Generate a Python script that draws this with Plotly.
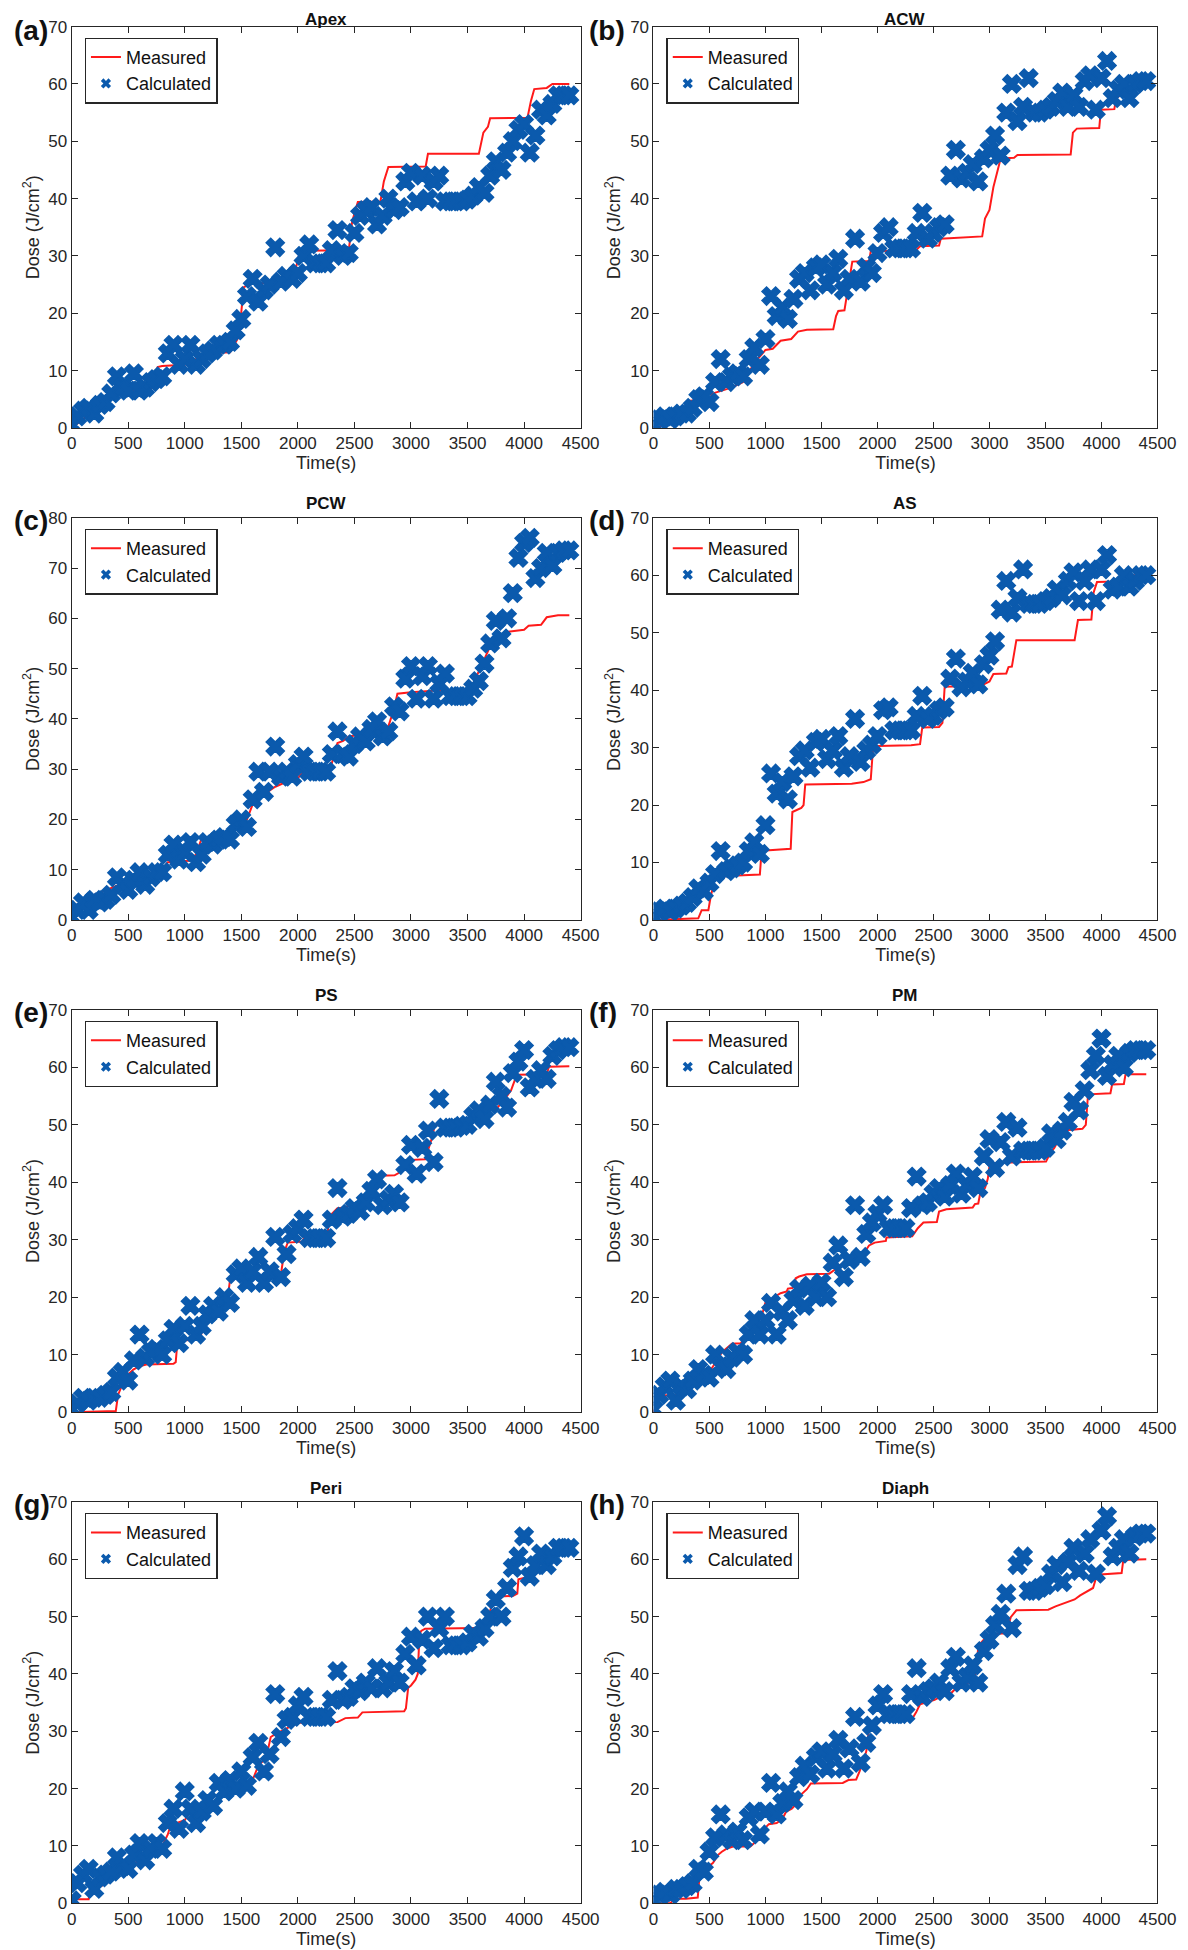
import plotly.graph_objects as go

# ---------------- data ----------------
PANEL_LABELS = ["(a)", "(b)", "(c)", "(d)", "(e)", "(f)", "(g)", "(h)"]
PANEL_TITLES = ["Apex", "ACW", "PCW", "AS", "PS", "PM", "Peri", "Diaph"]
Y_MAX = [70, 70, 80, 70, 70, 70, 70, 70]

# sample times of the calculated dose (s)
T_CALC = [0, 50, 100, 150, 200, 250, 300, 350, 400, 450,
          500, 550, 600, 650, 700, 750, 800, 850, 900, 950,
          1000, 1050, 1100, 1150, 1200, 1250, 1300, 1350, 1400, 1450,
          1500, 1550, 1600, 1650, 1700, 1750, 1800, 1850, 1900, 1950,
          2000, 2050, 2100, 2150, 2200, 2250, 2300, 2350, 2400, 2450,
          2500, 2550, 2600, 2650, 2700, 2750, 2800, 2850, 2900, 2950,
          3000, 3050, 3100, 3150, 3200, 3250, 3300, 3350, 3400, 3450,
          3500, 3550, 3600, 3650, 3700, 3750, 3800, 3850, 3900, 3950,
          4000, 4050, 4100, 4150, 4200, 4250, 4300, 4350, 4400]

calc_apex = [0.5, 2, 3, 3.5, 2.5, 4, 4.5, 6, 9, 7,
             6.5, 9.5, 6.5, 7, 8, 8.5, 9, 13, 14.5, 11,
             12, 14.5, 11, 12, 13, 13.5, 14.5, 14.5, 15, 17,
             19, 23, 26, 22, 24, 25, 31.5, 25.5, 26.5, 26,
             27, 30, 32, 28.7, 28.7, 28.7, 31, 34.5, 30, 30.5,
             34, 37, 38, 38.5, 35.5, 37, 40, 38, 38.5, 43,
             44.5, 39.5, 44, 40, 43, 44, 39.5, 39.5, 39.5, 39.5,
             39.8, 40.5, 42, 41, 44, 46.5, 45, 48, 50, 52,
             53, 48, 51, 55.5, 54.5, 56.5, 58, 58, 58]
calc_acw = [0.5, 1.5, 2, 1.5, 2, 2.5, 2.5, 3.5, 5, 5.5,
            4.5, 8, 12, 8, 9, 9.5, 9, 12, 14, 11,
            15.5, 23, 19.5, 21, 19, 22.5, 26, 27, 24, 28,
            28.5, 25, 27, 29.5, 24, 26, 33, 25.5, 28, 27,
            30.5, 34, 35, 31.3, 31.3, 31.3, 31.3, 34, 37.5, 33,
            34, 35, 35.5, 44, 48.5, 43.5, 44.5, 46, 43, 47,
            48.5, 51, 47.5, 55, 60, 53.5, 56, 61, 55, 55,
            55.5, 56, 57, 58.5, 56, 58, 56, 60.5, 61.5, 55.5,
            61, 64, 57.5, 59, 60, 57.5, 60, 60.5, 60.5]
calc_pcw = [0.5, 2, 3.5, 2, 4, 3.5, 4, 5, 8.5, 7,
            6, 8, 9.5, 7, 8.5, 9.5, 9.5, 13, 15, 12,
            13.5, 15.5, 11.5, 13, 15.5, 15, 16, 16.5, 16, 19,
            20, 18.5, 24, 29.5, 25.5, 29.5, 34.5, 28.5, 29.5, 28.5,
            31, 32.5, 29.5, 29.5, 29.5, 29.5, 33, 37.5, 33, 32.5,
            35, 36.5, 35.5, 38, 39.5, 36.5, 37.5, 42.5, 41.5, 48,
            50.5, 44, 48.5, 50.5, 44, 47, 49, 44.5, 44.5, 44.5,
            44.5, 46, 47.5, 51, 55, 59.5, 56, 60, 65, 72,
            75, 76, 68, 70, 73, 70.5, 73, 73.5, 73.5]
calc_as = [0.5, 1.5, 2, 1.5, 2, 2.5, 3, 4, 5.5, 5,
           6.5, 8, 12, 8.5, 9, 9.5, 10, 12, 13.5, 11.5,
           16.5, 25.5, 22, 24, 21, 25, 28.5, 29.5, 26.5, 31,
           31.5, 28, 29.5, 32, 26.5, 28.5, 35, 27.5, 29.5, 30.5,
           32, 36.5, 37, 33, 33, 33, 33, 35.5, 39, 35,
           35.5, 36.5, 37, 42, 45.5, 40.5, 41.5, 43, 41, 44.5,
           46, 48.5, 54, 59, 53.5, 56, 61, 55, 55, 55,
           55.5, 56, 57.5, 56.5, 59, 60.5, 55.5, 59, 61, 55.5,
           61, 63.5, 57.5, 58, 60, 58, 59, 60, 60]
calc_ps = [0.5, 1.5, 2.5, 2, 2.5, 2.5, 3, 3.5, 6, 7,
           5.5, 9, 13.5, 9.5, 10.5, 11, 10, 12.5, 14.5, 12,
           15, 18.5, 13.5, 15, 17, 18.5, 17.5, 20, 19, 24,
           25, 22.5, 24.5, 27, 22.5, 24.5, 30.5, 23.5, 27.5, 31,
           32, 33.5, 30.3, 30.3, 30.3, 30.3, 33.5, 39, 34, 34.5,
           35.5, 35, 36.5, 38.5, 40.5, 36, 37, 38, 36.5, 43,
           46.5, 41.5, 46, 49, 43.5, 54.5, 49.5, 49.5, 49.5, 49.8,
           50, 51.5, 52.5, 51, 53.5, 57.5, 55, 53, 59, 61,
           63, 56.5, 58, 59.5, 58, 62, 63, 63.5, 63.5]
calc_pm = [0.5, 3, 4.5, 5.5, 2, 4.5, 4, 5.5, 7.5, 6.5,
           6, 10, 8, 7.5, 9.5, 10.5, 10, 13.5, 16, 13.5,
           16, 19, 13.5, 17.5, 16, 19.5, 21.5, 18.5, 22, 20,
           22.5, 20, 26, 29, 23.5, 26.5, 36, 27, 31, 33,
           34.5, 36, 32, 32, 32, 32, 35.5, 41, 36, 36.5,
           38, 39, 37.5, 39.5, 41.5, 38, 39.5, 41, 39, 44.5,
           47.5, 42.5, 47, 50.5, 44.5, 49.5, 45.5, 45.5, 45.5, 45.5,
           46, 48.5, 47.5, 49, 50.5, 54, 52.5, 56, 59.5, 62,
           65, 58.5, 60.5, 62, 60, 62.5, 63, 63, 63]
calc_peri = [0.5, 3.5, 5, 6, 2.5, 4.5, 5, 5.5, 8, 6.5,
             6, 8.5, 10.5, 7.5, 9.5, 10.5, 9.5, 14, 16.5, 13,
             19.5, 16.5, 14, 16, 18, 17, 21, 19.5, 21.5, 20,
             23, 20.5, 25.5, 28, 23, 26, 36.5, 29, 32, 32.5,
             34.5, 36, 32.5, 32.5, 32.5, 32.5, 35.5, 40.5, 35.5, 36,
             37.5, 37, 38.5, 37.5, 41, 37.5, 38.5, 40.5, 38.5, 43.5,
             46.5, 41.5, 46, 50, 44.5, 48, 50, 45, 45, 45,
             45.5, 47, 46.5, 48, 50, 53, 50, 55, 58.5, 60.5,
             64, 57, 59, 61, 59, 60.5, 62, 62, 62]
calc_diaph = [0.5, 1.5, 2, 1.5, 2.5, 2.5, 3, 3.5, 6, 5.5,
              9, 11.5, 15.5, 12, 11, 12.5, 11, 15, 16, 12,
              16, 21, 15.5, 17.5, 19.5, 18, 22, 24, 22.5, 25.5,
              26.5, 23.5, 26, 28.5, 23.5, 27, 32.5, 24.5, 28, 31,
              34.5, 36.5, 33, 33, 33, 33, 36.5, 41, 36, 37,
              37.5, 38.5, 37, 41, 43, 38.5, 39.5, 41.5, 38.5, 44,
              46, 48.5, 50.5, 54, 48, 59, 60.5, 54.5, 54.5, 55,
              55.5, 57.5, 59, 56, 59.5, 62, 58, 61, 63.5, 57.5,
              65, 67.5, 60.5, 62, 63.5, 61, 64, 64.5, 64.5]

# measured dose (step-like curves): breakpoints time / dose
meas_t_apex = [0, 100, 200, 300, 400, 500, 700, 760, 800, 1000, 1100, 1200, 1400, 1480, 1520, 1580, 1950, 2000, 2020, 2450,
               2480, 2530, 2730, 2760, 2800, 3130, 3150, 3600, 3640, 3680, 3700, 4030, 4060, 4090, 4200, 4250, 4400]
meas_v_apex = [0, 1.5, 3, 4.5, 6, 6.5, 6.8, 10.6, 10.8, 11, 12, 13, 13.2, 16, 24.5, 25.2, 25.3, 29, 30.9, 31,
               36, 39.4, 39.5, 43, 45.5, 45.6, 47.8, 47.8, 51.5, 52.5, 54, 54.1, 57, 59.1, 59.3, 60, 60]
meas_t_acw = [0, 100, 200, 290, 300, 390, 500, 530, 560, 660, 760, 800, 900, 1000, 1065, 1135, 1230, 1290, 1370, 1605,
              1630, 1650, 1705, 1740, 1775, 1925, 1940, 2345, 2380, 2550, 2565, 2935, 2960, 3000, 3035, 3100, 3220, 3250,
              3725, 3745, 3780, 3980, 3995, 4115, 4130, 4250, 4400]
meas_v_acw = [0, 0.5, 2, 3, 4.7, 4.8, 5.2, 6, 6.2, 6.8, 7.6, 8, 11.3, 13.6, 13.8, 15.2, 15.5, 16.8, 17.1, 17.2,
              19.5, 20.4, 20.5, 25, 29, 29.1, 30.8, 31, 31.7, 31.8, 33, 33.4, 36.5, 38, 42, 47, 47.1, 47.6,
              47.7, 51.5, 52.2, 52.3, 55.5, 55.6, 57.5, 59, 60]
meas_t_pcw = [0, 100, 200, 330, 400, 600, 800, 850, 970, 1035, 1100, 1150, 1300, 1400, 1500, 1550, 1600, 1700, 1800, 1900,
              2000, 2050, 2100, 2290, 2320, 2350, 2400, 2450, 2600, 2700, 2800, 2850, 2880, 3000, 3200, 3500, 3550, 3600,
              3650, 3700, 3760, 3790, 3850, 4000, 4040, 4150, 4200, 4300, 4400]
meas_v_pcw = [0, 3, 5, 6.1, 6.8, 8, 10, 11.5, 11.7, 11.8, 13, 16.3, 16.6, 17.5, 19, 20, 23, 25, 26.5, 27.5,
              28.2, 29.5, 30, 30.2, 33, 35.2, 35.6, 36.5, 37, 37.5, 38.5, 42, 45, 45.3, 45.6, 45.7, 47, 49.5,
              52, 54.4, 54.5, 56, 57.3, 57.7, 58.5, 58.7, 60.2, 60.6, 60.6]
meas_t_as = [0, 400, 430, 490, 510, 545, 560, 700, 950, 965, 1000, 1200, 1225, 1240, 1320, 1340, 1355, 1770, 1875, 1940,
             1960, 2000, 2300, 2380, 2400, 2550, 2580, 2600, 2815, 2950, 3000, 3035, 3150, 3170, 3200, 3240, 3760, 3790,
             3910, 3930, 3960, 4130, 4200, 4400]
meas_v_as = [0, 0.3, 1.7, 1.7, 4, 6.9, 7.5, 7.7, 7.9, 12, 12.1, 12.3, 12.4, 18.8, 19.5, 20, 23.6, 23.7, 24, 24.5,
             29.8, 30.3, 30.4, 30.6, 33.5, 33.6, 34.3, 40.6, 40.7, 41, 41.5, 42.8, 42.9, 44, 44.1, 48.7, 48.7, 52.2,
             52.3, 57, 58.8, 58.9, 60, 60]
meas_t_ps = [0, 390, 410, 460, 495, 545, 600, 660, 900, 920, 935, 1000, 1135, 1150, 1200, 1300, 1370, 1400, 1470, 1810,
             1850, 1880, 1910, 2000, 2045, 2060, 2265, 2275, 2350, 2420, 2450, 2550, 2620, 2650, 2670, 2855, 2890, 2920,
             2980, 3010, 3125, 3190, 3210, 3500, 3560, 3700, 3765, 3830, 3885, 3935, 4200, 4220, 4400]
meas_v_ps = [0, 0.2, 3, 5.4, 6.5, 7.4, 8, 8.3, 8.4, 8.7, 12.3, 12.5, 12.6, 14, 15.5, 17.5, 18.5, 23, 23.3, 23.5,
             24, 27.9, 29.5, 29.6, 29.7, 30.9, 31.2, 34, 35.5, 35.6, 36, 36.5, 37, 38.5, 41.1, 41.2, 41.6, 42.5,
             43, 43.9, 44, 48, 50, 50.1, 51.5, 52.5, 53, 54.5, 56, 58.7, 58.8, 60.1, 60.2]
meas_t_pm = [0, 60, 200, 350, 500, 610, 650, 700, 780, 820, 900, 970, 1000, 1135, 1190, 1200, 1240, 1260, 1270, 1300,
             1370, 1570, 1620, 1650, 1720, 1775, 1860, 1890, 1925, 1975, 2075, 2080, 2310, 2360, 2410, 2530, 2550, 2615,
             2850, 2870, 2900, 2920, 2960, 2985, 3000, 3035, 3120, 3505, 3540, 3580, 3660, 3830, 3860, 3880, 4080, 4095,
             4200, 4215, 4400]
meas_v_pm = [0, 2.9, 3, 5, 7, 10.4, 11, 11.9, 12, 13, 15, 17, 19.1, 20.7, 21, 21.5, 21.6, 22, 23.3, 23.6,
             24, 24.1, 24.8, 25.5, 26, 26.5, 27, 28, 29, 29.5, 29.8, 30.4, 30.6, 32, 33, 33.1, 34.9, 35.3,
             35.6, 36.2, 36.3, 38.4, 39, 40.6, 42.8, 43.3, 43.4, 43.6, 45, 46, 49, 49.3, 50, 55.3, 55.5, 57,
             57.1, 58.8, 58.8]
meas_t_peri = [0, 150, 160, 200, 260, 350, 450, 500, 600, 700, 800, 850, 870, 930, 1000, 1030, 1080, 1150, 1300, 1400,
               1500, 1600, 1650, 1700, 1740, 1760, 1800, 1900, 2010, 2350, 2400, 2420, 2530, 2535, 2570, 2940, 2955, 2975,
               3000, 3040, 3060, 3075, 3090, 3125, 3580, 3600, 3650, 3700, 3730, 3765, 3900, 3940, 3950, 4050, 4100, 4150,
               4200, 4250, 4300, 4400]
meas_v_peri = [0.7, 0.7, 2, 2.5, 3, 4, 5.5, 6.5, 7.5, 9, 10, 12, 13.3, 14, 14.5, 15.5, 16, 17.5, 19, 20,
               21, 21.5, 24, 25, 27.2, 29, 29.5, 30.5, 31.5, 31.6, 32.1, 32.3, 32.4, 32.5, 33.3, 33.5, 34, 37.6,
               38, 39, 40, 46.9, 47.5, 47.9, 48, 48.2, 49, 51, 53, 53.5, 53.6, 54, 56.5, 57, 58, 58.5,
               59, 60.5, 61, 61.1]
meas_t_diaph = [0, 150, 175, 225, 290, 395, 410, 460, 530, 580, 610, 650, 710, 865, 900, 930, 965, 1030, 1100, 1150,
                1185, 1235, 1285, 1320, 1370, 1405, 1690, 1740, 1810, 1840, 1875, 1900, 1925, 1975, 2075, 2310, 2345, 2380,
                2510, 2600, 2665, 2700, 2780, 2815, 2865, 2885, 2900, 2950, 3070, 3150, 3190, 3240, 3525, 3590, 3675, 3760,
                3810, 3875, 3925, 3960, 4180, 4195, 4400]
meas_v_diaph = [0, 0, 0.5, 0.8, 0.8, 1, 4.5, 6, 7, 8.5, 9, 9.5, 9.9, 9.9, 10.5, 11, 12.5, 13.8, 14, 14.7,
                16, 16.5, 17.5, 19, 19.9, 20.9, 21, 21.5, 21.6, 23, 25, 26.5, 30.5, 31.5, 32.1, 32.2, 33.3, 34.7,
                35.5, 36.4, 36.8, 37.5, 38, 38.5, 39.3, 40.8, 44.9, 46, 47, 47.1, 49.9, 51.1, 51.2, 51.8, 52.4, 53,
                53.7, 54.5, 55, 57.3, 57.6, 59.9, 60]

CALC = [calc_apex, calc_acw, calc_pcw, calc_as, calc_ps, calc_pm, calc_peri, calc_diaph]
MEAS_T = [meas_t_apex, meas_t_acw, meas_t_pcw, meas_t_as, meas_t_ps, meas_t_pm, meas_t_peri, meas_t_diaph]
MEAS_V = [meas_v_apex, meas_v_acw, meas_v_pcw, meas_v_as, meas_v_ps, meas_v_pm, meas_v_peri, meas_v_diaph]

# ---------------- layout ----------------
W, H = 1200, 1950
# target positions on the final picture (px) -> figure px (page offset / scale of the capture)
SX, DX, SY, DY = 0.982, 11.2, 0.992, 14.4
COL_X = [(70, 580), (653, 1158)]            # plot-area left/right
ROW_Y = [(24, 426), (516, 919), (1009, 1412), (1502, 1904)]  # plot-area top/bottom

FONT = "Liberation Sans, Arial, Helvetica, sans-serif"
AX_COLOR = "#262626"
TXT = "#111111"
RED = "#ff1a1a"
BLUE = "#0b5aad"


def px_x(v):
    return max((v - DX) / SX, 0) / W


def px_y(v):
    return 1 - max((v - DY) / SY, 0) / H


fig = go.Figure()
layout = dict(
    width=W, height=H,
    margin=dict(l=0, r=0, t=0, b=0),
    paper_bgcolor="white", plot_bgcolor="white",
    font=dict(family=FONT, size=17, color=AX_COLOR),
    showlegend=True,
)
annotations = []

for i in range(8):
    r, c = divmod(i, 2)
    x0, x1 = COL_X[c]
    y0, y1 = ROW_Y[r]
    n = "" if i == 0 else str(i + 1)
    xa, ya = "x" + n, "y" + n
    leg = "legend" + n

    # data traces
    fig.add_trace(go.Scatter(
        x=MEAS_T[i], y=MEAS_V[i], mode="lines", name="Measured", showlegend=False,
        legendgroup="m" + n, line=dict(color=RED, width=2), xaxis=xa, yaxis=ya))
    fig.add_trace(go.Scatter(
        x=T_CALC, y=CALC[i], mode="markers", name="Calculated", showlegend=False,
        legendgroup="c" + n,
        marker=dict(symbol="x", size=16, color=BLUE, line=dict(width=1.5, color=BLUE)),
        xaxis=xa, yaxis=ya))
    # legend entries (thin line / small cross, as in the original legend)
    fig.add_trace(go.Scatter(
        x=[None], y=[None], mode="lines", name="Measured", legendgroup="m" + n,
        line=dict(color=RED, width=2), xaxis=xa, yaxis=ya, legend=leg))
    fig.add_trace(go.Scatter(
        x=[None], y=[None], mode="markers", name="Calculated", legendgroup="c" + n,
        marker=dict(symbol="x", size=9, color=BLUE, line=dict(width=0)),
        xaxis=xa, yaxis=ya, legend=leg))

    common = dict(showline=True, linecolor=AX_COLOR, linewidth=1, mirror="ticks",
                  ticks="inside", ticklen=6, tickwidth=1, tickcolor=AX_COLOR,
                  showgrid=False, zeroline=False,
                  tickfont=dict(family=FONT, size=17, color=AX_COLOR))
    layout["xaxis" + n] = dict(
        common, domain=[px_x(x0), px_x(x1)], anchor=ya, range=[0, 4500], dtick=500,
        title=dict(text="Time(s)", font=dict(family=FONT, size=18, color=AX_COLOR), standoff=1))
    layout["yaxis" + n] = dict(
        common, domain=[px_y(y1), px_y(y0)], anchor=xa, range=[0, Y_MAX[i]], dtick=10,
        title=dict(text="Dose (J/cm<sup>2</sup>)", font=dict(family=FONT, size=18, color=AX_COLOR), standoff=4))
    layout[leg] = dict(
        x=px_x(x0 + 13), y=px_y(y0 + 11), xanchor="left", yanchor="top",
        bgcolor="white", bordercolor=AX_COLOR, borderwidth=1.3,
        font=dict(family=FONT, size=18, color=TXT),
        tracegroupgap=0, itemwidth=30)

    annotations.append(dict(
        text=PANEL_TITLES[i], x=px_x((x0 + x1) / 2), y=min(px_y(y0 - 14), 1 - 3 / H),
        xref="paper", yref="paper", xanchor="center", yanchor="middle", showarrow=False,
        font=dict(family=FONT, size=17, color=TXT, weight="bold")))
    annotations.append(dict(
        text=PANEL_LABELS[i], x=px_x(x0 - 66), y=min(px_y(y0 + 3), 1 - 14 / H),
        xref="paper", yref="paper", xanchor="left", yanchor="middle", showarrow=False,
        borderpad=0, font=dict(family=FONT, size=28, color=TXT, weight="bold")))

layout["annotations"] = annotations
fig.update_layout(**layout)
fig.write_html("out.html")
